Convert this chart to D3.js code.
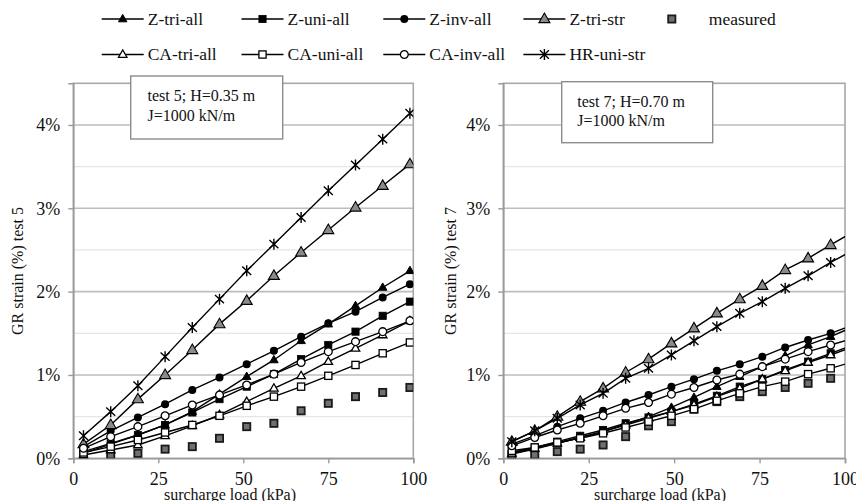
<!DOCTYPE html>
<html>
<head>
<meta charset="utf-8">
<script src="https://cdn.jsdelivr.net/npm/d3@7"></script>
<style>
  html, body { margin: 0; padding: 0; background: #fff; }
  svg { display: block; }
  svg text { font-family: "Liberation Serif", "Times New Roman", Times, serif; fill: #111; }
</style>
</head>
<body>
<svg id="chart" width="856" height="501"></svg>
<script>
// Surcharge load (kPa) at each recorded step
const loadTest5 = [3, 11, 19, 27, 35, 43, 51, 59, 67, 75, 83, 91, 99];
const loadTest7 = [2.5, 9.2, 15.8, 22.5, 29.2, 35.8, 42.5, 49.2, 55.8, 62.5, 69.2, 75.8, 82.5, 89.2, 95.8, 102.5];

// Geosynthetic reinforcement strain (%) — test 5, H = 0.35 m
const zTriAll5   = [0.06, 0.17, 0.28, 0.40, 0.56, 0.77, 0.98, 1.18, 1.41, 1.61, 1.83, 2.05, 2.25];
const zUniAll5   = [0.08, 0.18, 0.28, 0.40, 0.55, 0.71, 0.86, 1.01, 1.19, 1.36, 1.52, 1.71, 1.88];
const zInvAll5   = [0.14, 0.33, 0.49, 0.65, 0.82, 0.97, 1.13, 1.29, 1.46, 1.62, 1.76, 1.93, 2.09];
const zTriStr5   = [0.17, 0.40, 0.71, 1.00, 1.30, 1.61, 1.89, 2.19, 2.47, 2.74, 3.01, 3.27, 3.53];
const measured5  = [0.04, 0.04, 0.06, 0.11, 0.14, 0.24, 0.38, 0.42, 0.57, 0.66, 0.74, 0.79, 0.85];
const caTriAll5  = [0.04, 0.10, 0.16, 0.27, 0.39, 0.52, 0.68, 0.84, 0.99, 1.16, 1.32, 1.48, 1.65];
const caUniAll5  = [0.07, 0.14, 0.22, 0.31, 0.40, 0.51, 0.63, 0.74, 0.86, 0.99, 1.12, 1.26, 1.39];
const caInvAll5  = [0.12, 0.26, 0.38, 0.51, 0.64, 0.76, 0.88, 1.01, 1.15, 1.28, 1.40, 1.52, 1.65];
const hrUniStr5  = [0.27, 0.56, 0.87, 1.22, 1.57, 1.91, 2.25, 2.57, 2.89, 3.21, 3.52, 3.83, 4.14];

// Geosynthetic reinforcement strain (%) — test 7, H = 0.70 m
const zTriAll7   = [0.05, 0.11, 0.18, 0.25, 0.32, 0.41, 0.50, 0.61, 0.73, 0.86, 0.98, 1.10, 1.23, 1.36, 1.46, 1.58];
const zUniAll7   = [0.07, 0.13, 0.20, 0.27, 0.34, 0.42, 0.49, 0.56, 0.65, 0.75, 0.86, 0.95, 1.06, 1.16, 1.26, 1.36];
const zInvAll7   = [0.17, 0.27, 0.38, 0.48, 0.57, 0.67, 0.76, 0.86, 0.95, 1.05, 1.13, 1.22, 1.33, 1.42, 1.50, 1.60];
const zTriStr7   = [0.20, 0.33, 0.50, 0.68, 0.84, 1.03, 1.19, 1.38, 1.56, 1.74, 1.91, 2.07, 2.26, 2.40, 2.56, 2.72];
const measured7  = [0.04, 0.04, 0.08, 0.11, 0.16, 0.26, 0.39, 0.44, 0.59, 0.68, 0.74, 0.80, 0.85, 0.90, 0.96];
const caTriAll7  = [0.06, 0.12, 0.18, 0.25, 0.32, 0.40, 0.48, 0.56, 0.64, 0.74, 0.84, 0.95, 1.05, 1.15, 1.24, 1.34];
const caUniAll7  = [0.09, 0.13, 0.19, 0.24, 0.30, 0.37, 0.44, 0.51, 0.59, 0.69, 0.78, 0.86, 0.92, 1.01, 1.08, 1.16];
const caInvAll7  = [0.15, 0.25, 0.34, 0.42, 0.51, 0.60, 0.67, 0.77, 0.85, 0.94, 1.01, 1.10, 1.19, 1.28, 1.36, 1.44];
const hrUniStr7  = [0.20, 0.33, 0.48, 0.64, 0.78, 0.96, 1.08, 1.24, 1.41, 1.58, 1.74, 1.88, 2.04, 2.19, 2.35, 2.50];

// Axis ticks
const xTicks = [0, 25, 50, 75, 100];
const yTicks = [0, 1, 2, 3, 4];
const yMinor = [0.5, 1.5, 2.5, 3.5];

// Series names and marker styles (legend order)
const seriesNames = ["Z-tri-all", "Z-uni-all", "Z-inv-all", "Z-tri-str", "measured",
                     "CA-tri-all", "CA-uni-all", "CA-inv-all", "HR-uni-str"];
const seriesMarkers = ["triBlack", "sqBlack", "circBlack", "triGrey", "sqMeasured",
                       "triOpen", "sqOpen", "circOpen", "star"];
const seriesHasLine = [true, true, true, true, false, true, true, true, true];

const test5Values = [zTriAll5, zUniAll5, zInvAll5, zTriStr5, measured5, caTriAll5, caUniAll5, caInvAll5, hrUniStr5];
const test7Values = [zTriAll7, zUniAll7, zInvAll7, zTriStr7, measured7, caTriAll7, caUniAll7, caInvAll7, hrUniStr7];

const svg = d3.select("#chart");
const FONT = '"Liberation Serif", "Times New Roman", Times, serif';

function tri(w) {
  const h = w * 0.866;
  return `M0,${-h * 0.62}L${w / 2},${h * 0.38}L${-w / 2},${h * 0.38}Z`;
}

function drawMarker(g, type) {
  switch (type) {
    case "triBlack":
      g.append("path").attr("d", tri(8.5)).attr("fill", "#000").attr("stroke", "#000").attr("stroke-width", 1);
      break;
    case "triOpen":
      g.append("path").attr("d", tri(8.5)).attr("fill", "#fff").attr("stroke", "#000").attr("stroke-width", 1.3);
      break;
    case "triGrey":
      g.append("path").attr("d", tri(11)).attr("fill", "#8a8a8a").attr("stroke", "#000").attr("stroke-width", 1.1);
      break;
    case "sqBlack":
      g.append("rect").attr("x", -3.6).attr("y", -3.6).attr("width", 7.2).attr("height", 7.2)
        .attr("fill", "#000").attr("stroke", "#000").attr("stroke-width", 0.8);
      break;
    case "sqOpen":
      g.append("rect").attr("x", -3.6).attr("y", -3.6).attr("width", 7.2).attr("height", 7.2)
        .attr("fill", "#fff").attr("stroke", "#000").attr("stroke-width", 1.3);
      break;
    case "sqMeasured":
      g.append("rect").attr("x", -3.6).attr("y", -3.6).attr("width", 7.2).attr("height", 7.2)
        .attr("fill", "#707070").attr("stroke", "#1a1a1a").attr("stroke-width", 1.8);
      break;
    case "circBlack":
      g.append("circle").attr("r", 4).attr("fill", "#000");
      break;
    case "circOpen":
      g.append("circle").attr("r", 3.9).attr("fill", "#fff").attr("stroke", "#000").attr("stroke-width", 1.3);
      break;
    case "star":
      g.append("path").attr("d", "M-4.5,-4.2L4.5,4.2M-4.5,4.2L4.5,-4.2M0,-5.5L0,5.5")
        .attr("fill", "none").attr("stroke", "#000").attr("stroke-width", 1.4);
      break;
  }
}

function addText(parent, str, size) {
  return parent.append("text").style("font-family", FONT).style("font-size", size + "px")
    .style("fill", "#111").text(str);
}

const yTop = 83.3, yBottom = 458.3;

const panels = [
  { id: "t5", loads: loadTest5, values: test5Values, x0: 73.3, x1: 413.3,
    yTitle: "GR strain (%) test 5", yTitleX: 17.5, xTitleX: 230,
    box: { x: 130.7, y: 76, w: 152, h: 63, tx: 147.5, ty1: 101, ty2: 120.5 },
    lines: ["test 5; H=0.35 m", "J=1000 kN/m"] },
  { id: "t7", loads: loadTest7, values: test7Values, x0: 503.3, x1: 845,
    yTitle: "GR strain (%) test 7", yTitleX: 450, xTitleX: 660,
    box: { x: 561.7, y: 81.7, w: 151, h: 61, tx: 577.3, ty1: 106.5, ty2: 126 },
    lines: ["test 7; H=0.70 m", "J=1000 kN/m"] }
];

panels.forEach(p => {
  const x = d3.scaleLinear().domain([0, 100]).range([p.x0, p.x1]);
  const y = d3.scaleLinear().domain([0, 4.5]).range([yBottom, yTop]);
  const g = svg.append("g");

  // clip region for the plot area
  svg.append("clipPath").attr("id", "clip-" + p.id)
    .append("rect").attr("x", p.x0).attr("y", yTop).attr("width", p.x1 - p.x0).attr("height", yBottom - yTop);

  // minor and major gridlines
  g.selectAll(".minor").data(yMinor).join("line")
    .attr("x1", p.x0).attr("x2", p.x1).attr("y1", d => y(d)).attr("y2", d => y(d))
    .attr("stroke", "#e6e6e6").attr("stroke-width", 1.2);
  g.selectAll(".major").data(yTicks.slice(1)).join("line")
    .attr("x1", p.x0).attr("x2", p.x1).attr("y1", d => y(d)).attr("y2", d => y(d))
    .attr("stroke", "#bdbdbd").attr("stroke-width", 1.6);

  // plot frame
  g.append("rect").attr("x", p.x0).attr("y", yTop).attr("width", p.x1 - p.x0).attr("height", yBottom - yTop)
    .attr("fill", "none").attr("stroke", "#a8a8a8").attr("stroke-width", 1.6);

  // axes
  const yAxis = d3.axisLeft(y).tickValues(yTicks).tickFormat(d => d + "%").tickSize(5).tickPadding(8);
  const ya = g.append("g").attr("transform", `translate(${p.x0},0)`).call(yAxis);
  const xAxis = d3.axisBottom(x).tickValues(xTicks).tickSize(5).tickPadding(9);
  const xa = g.append("g").attr("transform", `translate(0,${yBottom})`).call(xAxis);
  [ya, xa].forEach(a => {
    a.attr("font-family", null).attr("font-size", null);
    a.select(".domain").attr("stroke", "#9a9a9a").attr("stroke-width", 1.6);
    a.selectAll(".tick line").attr("stroke", "#9a9a9a").attr("stroke-width", 1.4);
    a.selectAll(".tick text").attr("fill", null)
      .style("font-family", FONT).style("font-size", "18px").style("fill", "#111");
  });
  ya.selectAll(".tick text").attr("dy", "0.33em");

  // axis titles
  addText(g, p.yTitle, 16)
    .attr("transform", `translate(${p.yTitleX},${271}) rotate(-90)`)
    .attr("text-anchor", "middle").attr("dy", "0.35em");
  addText(g, "surcharge load (kPa)", 16)
    .attr("x", p.xTitleX).attr("y", 500).attr("text-anchor", "middle");

  // series lines and markers
  const plot = g.append("g").attr("clip-path", `url(#clip-${p.id})`);
  const line = d3.line().x(d => x(d[0])).y(d => y(d[1]));
  p.values.forEach((vals, i) => {
    const pts = vals.map((v, k) => [p.loads[k], v]);
    if (seriesHasLine[i]) {
      plot.append("path").datum(pts).attr("d", line)
        .attr("fill", "none").attr("stroke", "#000").attr("stroke-width", 1.4);
    }
    pts.forEach(pt => {
      const mg = plot.append("g").attr("transform", `translate(${x(pt[0])},${y(pt[1])})`);
      drawMarker(mg, seriesMarkers[i]);
    });
  });

  // annotation box
  g.append("rect").attr("x", p.box.x).attr("y", p.box.y).attr("width", p.box.w).attr("height", p.box.h)
    .attr("fill", "#fff").attr("stroke", "#8c8c8c").attr("stroke-width", 1.4);
  addText(g, p.lines[0], 16).attr("x", p.box.tx).attr("y", p.box.ty1);
  addText(g, p.lines[1], 16).attr("x", p.box.tx).attr("y", p.box.ty2);
});

// legend
const legendCols = [101.7, 241.5, 383.3, 523.4];
const legendRows = [19, 54.5];
const legend = svg.append("g");
seriesNames.forEach((name, i) => {
  const row = i < 5 ? 0 : 1;
  const col = i < 5 ? i : i - 5;
  const ly = legendRows[row];
  const lg = legend.append("g");
  if (seriesHasLine[i]) {
    const lx = legendCols[col];
    lg.append("line").attr("x1", lx).attr("x2", lx + 42).attr("y1", ly).attr("y2", ly)
      .attr("stroke", "#000").attr("stroke-width", 1.4);
    drawMarker(lg.append("g").attr("transform", `translate(${lx + 21},${ly})`), seriesMarkers[i]);
    addText(lg, name, 17.5).attr("x", lx + 46).attr("y", ly).attr("dy", "0.33em");
  } else {
    drawMarker(lg.append("g").attr("transform", `translate(${671.8},${ly})`), seriesMarkers[i]);
    addText(lg, name, 17.5).attr("x", 708.8).attr("y", ly).attr("dy", "0.33em");
  }
});
</script>
</body>
</html>
